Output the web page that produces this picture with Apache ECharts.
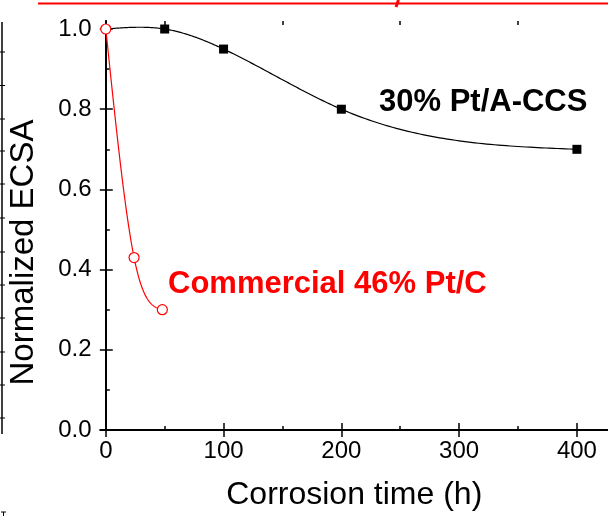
<!DOCTYPE html>
<html>
<head>
<meta charset="utf-8">
<title>Normalized ECSA vs corrosion time</title>
<script src="https://cdn.jsdelivr.net/npm/echarts@6/dist/echarts.min.js"></script>
<style>
  html, body { margin: 0; padding: 0; background: #fff; }
  #chart { width: 608px; height: 516px; }
</style>
</head>
<body>
<div id="chart"></div>
<script>
// 30% Pt/A-CCS catalyst
const timeAccs = [0, 50, 100, 200, 400];
const ecsaAccs = [1.0, 1.0, 0.95, 0.80, 0.70];
// Commercial 46% Pt/C catalyst
const timePtc = [0, 24, 48];
const ecsaPtc = [1.0, 0.43, 0.30];

// axis ticks
const xMajorTicks = [0, 100, 200, 300, 400];
const xMinorTicks = [50, 150, 250, 350];
const yMajorTicks = [0, 0.2, 0.4, 0.6, 0.8, 1.0];
const yMinorTicks = [0.1, 0.3, 0.5, 0.7, 0.9];

const FONT = '"Liberation Sans", Arial, Helvetica, sans-serif';
const X_MIN = -4.5, X_MAX = 426.4, Y_MIN = 0, Y_MAX = 1.02;

// Natural cubic spline through (xs, ys); returns an evaluator for segment i.
function naturalSpline(xs, ys) {
  const n = xs.length;
  const h = [];
  for (let i = 0; i < n - 1; i++) h.push(xs[i + 1] - xs[i]);
  const M = new Array(n).fill(0);
  if (n > 2) {
    // tridiagonal system for the interior second derivatives
    const a = [], b = [], c = [], d = [];
    for (let i = 1; i < n - 1; i++) {
      a.push(h[i - 1]);
      b.push(2 * (h[i - 1] + h[i]));
      c.push(h[i]);
      d.push(6 * ((ys[i + 1] - ys[i]) / h[i] - (ys[i] - ys[i - 1]) / h[i - 1]));
    }
    const m = b.length;
    for (let i = 1; i < m; i++) {
      const w = a[i] / b[i - 1];
      b[i] -= w * c[i - 1];
      d[i] -= w * d[i - 1];
    }
    const sol = new Array(m);
    sol[m - 1] = d[m - 1] / b[m - 1];
    for (let i = m - 2; i >= 0; i--) sol[i] = (d[i] - c[i] * sol[i + 1]) / b[i];
    for (let i = 0; i < m; i++) M[i + 1] = sol[i];
  }
  return function (i, x) {
    const x0 = xs[i], x1 = xs[i + 1], hh = h[i];
    const A = x1 - x, B = x - x0;
    return M[i] * A * A * A / (6 * hh) + M[i + 1] * B * B * B / (6 * hh)
      + (ys[i] / hh - M[i] * hh / 6) * A + (ys[i + 1] / hh - M[i + 1] * hh / 6) * B;
  };
}

// custom series drawing the spline segment that starts at each data point
function splineSeries(name, xs, ys, color, z) {
  const spline = naturalSpline(xs, ys);
  return {
    name, type: 'custom', coordinateSystem: 'cartesian2d',
    xAxisIndex: 0, yAxisIndex: 0, z,
    data: xs.map((x, i) => [x, ys[i]]),
    encode: { x: 0, y: 1 },
    silent: true,
    renderItem(params, api) {
      const i = params.dataIndex;
      if (i >= xs.length - 1) return null;
      const pts = [];
      const steps = 60;
      for (let k = 0; k <= steps; k++) {
        const x = xs[i] + (xs[i + 1] - xs[i]) * k / steps;
        pts.push(api.coord([x, spline(i, x)]));
      }
      return {
        type: 'polyline',
        shape: { points: pts },
        style: { stroke: color, lineWidth: 1.2, fill: null }
      };
    }
  };
}

const chart = echarts.init(document.getElementById('chart'), null, { renderer: 'canvas' });

const axisLine = { show: true, lineStyle: { color: '#000', width: 2 } };

function xAxisDef(position, ticks, len, withLine, withLabels) {
  return {
    type: 'value', position, min: X_MIN, max: X_MAX,
    axisLine: withLine ? axisLine : { show: false },
    axisTick: { show: true, inside: true, length: len, customValues: ticks,
                lineStyle: { color: '#000', width: 1.5 } },
    axisLabel: withLabels
      ? { show: true, customValues: ticks, margin: 9, color: '#000',
          fontFamily: FONT, fontSize: 24, formatter: v => String(v) }
      : { show: false },
    splitLine: { show: false }
  };
}

function yAxisDef(position, ticks, len, withLine, withLabels) {
  return {
    type: 'value', position, min: Y_MIN, max: Y_MAX,
    axisLine: withLine ? axisLine : { show: false },
    axisTick: { show: true, inside: true, length: len, customValues: ticks,
                lineStyle: { color: '#000', width: 1.5 } },
    axisLabel: withLabels
      ? { show: true, customValues: ticks, margin: 9, color: '#000',
          fontFamily: FONT, fontSize: 24, formatter: v => v.toFixed(1) }
      : { show: false },
    splitLine: { show: false }
  };
}

const xMain = xAxisDef('bottom', xMajorTicks, 7, true, true);
xMain.name = 'Corrosion time (h)';
xMain.nameLocation = 'middle';
xMain.nameGap = 49;
xMain.nameTextStyle = { color: '#000', fontFamily: FONT, fontSize: 32, lineHeight: 32 };

const option = {
  backgroundColor: '#fff',
  animation: false,
  grid: { left: 100.5, top: 21, width: 508.5, height: 412, containLabel: false },
  xAxis: [
    xMain,
    xAxisDef('bottom', xMinorTicks, 4, false, false),
    xAxisDef('top', xMajorTicks, 7, true, false),
    xAxisDef('top', xMinorTicks, 4, false, false)
  ],
  yAxis: [
    yAxisDef('left', yMajorTicks, 7, true, true),
    yAxisDef('left', yMinorTicks, 4, false, false),
    yAxisDef('right', yMajorTicks, 6, true, false)
  ],
  series: [
    splineSeries('30% Pt/A-CCS curve', timeAccs, ecsaAccs, '#000', 2),
    splineSeries('Commercial 46% Pt/C curve', timePtc, ecsaPtc, '#ff0000', 3),
    {
      name: '30% Pt/A-CCS',
      type: 'scatter',
      xAxisIndex: 0, yAxisIndex: 0,
      data: timeAccs.map((t, i) => [t, ecsaAccs[i]]),
      symbol: 'rect',
      symbolSize: (v, p) => (p.dataIndex === 0 ? 0 : 9),
      itemStyle: { color: '#000', opacity: 1 },
      z: 4
    },
    {
      name: 'Commercial 46% Pt/C',
      type: 'scatter',
      xAxisIndex: 0, yAxisIndex: 0,
      data: timePtc.map((t, i) => [t, ecsaPtc[i]]),
      symbol: 'circle',
      symbolSize: 10,
      itemStyle: { color: '#fff', borderColor: '#ff0000', borderWidth: 1.2, opacity: 1 },
      z: 5
    }
  ],
  graphic: [
    {
      type: 'text', x: 23.5, y: 252.5, rotation: Math.PI / 2,
      style: { text: 'Normalized ECSA', fill: '#000', font: '33px ' + FONT,
               align: 'center', verticalAlign: 'middle' }
    },
    {
      type: 'text', x: 379, y: 102,
      style: { text: '30% Pt/A-CCS', fill: '#000', font: 'bold 31px ' + FONT,
               align: 'left', verticalAlign: 'middle' }
    },
    {
      type: 'text', x: 168, y: 284,
      style: { text: 'Commercial 46% Pt/C', fill: '#ff0000', font: 'bold 31px ' + FONT,
               align: 'left', verticalAlign: 'middle' }
    },
    // edge of the neighbouring panel: red rule along the top
    { type: 'line', shape: { x1: 38, y1: 3.5, x2: 608, y2: 3.5 },
      style: { stroke: '#ff0000', lineWidth: 2 } },
    { type: 'line', shape: { x1: 396, y1: 7, x2: 398.5, y2: 0 },
      style: { stroke: '#ff0000', lineWidth: 3 } },
    // edge of the neighbouring panel: black frame on the left
    { type: 'line', shape: { x1: 2, y1: 22, x2: 2, y2: 434 },
      style: { stroke: '#000', lineWidth: 1.5 } },
    ...[52, 85.5, 119, 151, 184, 218, 252, 285, 318, 352, 385, 418].map(y => ({
      type: 'line', shape: { x1: 0, y1: y, x2: 5, y2: y },
      style: { stroke: '#000', lineWidth: 1 }
    })),
    { type: 'line', shape: { x1: 1, y1: 512, x2: 6, y2: 512 },
      style: { stroke: '#000', lineWidth: 1 } },
    { type: 'line', shape: { x1: 3.5, y1: 512, x2: 3.5, y2: 516 },
      style: { stroke: '#000', lineWidth: 1 } }
  ]
};

chart.setOption(option);
</script>
</body>
</html>
